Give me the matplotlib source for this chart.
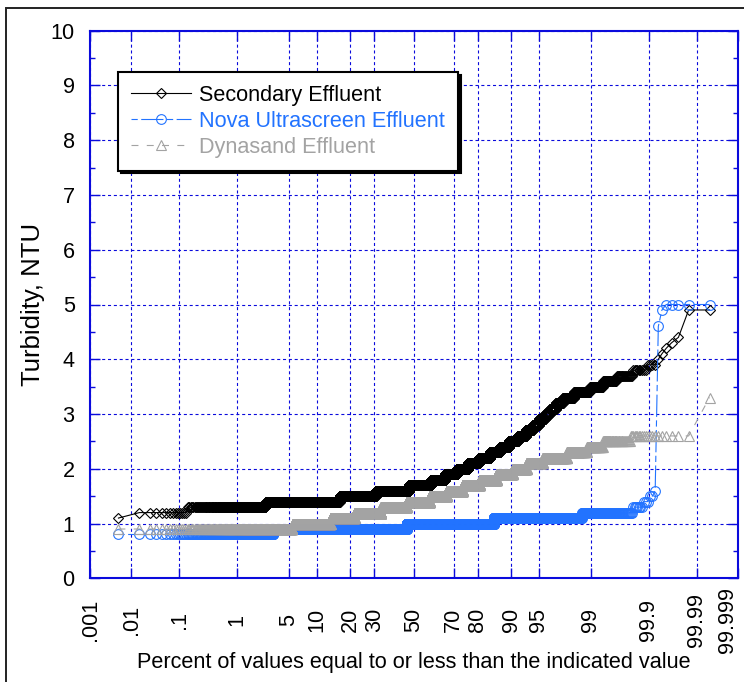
from statistics import NormalDist

import numpy as np
import matplotlib
matplotlib.use("Agg")
import matplotlib.pyplot as plt
from matplotlib.patches import Rectangle
from matplotlib.ticker import MultipleLocator, NullLocator

# Turbidity readings (0.1 NTU resolution): level and number of samples at that level
secondary_ntu = [1.1, 1.2, 1.3, 1.4, 1.5, 1.6, 1.7, 1.8, 1.9, 2.0, 2.1, 2.2, 2.3, 2.4,
                 2.5, 2.6, 2.7, 2.8, 2.9, 3.0, 3.1, 3.2, 3.3, 3.4, 3.5, 3.6, 3.7, 3.8,
                 3.9, 4.0, 4.1, 4.2, 4.3, 4.4, 4.9]
secondary_n = [1, 13, 239, 1383, 1432, 1653, 1150, 701, 561, 472, 427, 377, 298, 234,
               201, 154, 116, 87, 77, 56, 59, 59, 74, 73, 39, 26, 18, 9,
               4, 1, 1, 1, 1, 1, 2]

nova_ntu = [0.8, 0.9, 1.0, 1.1, 1.2, 1.3, 1.4, 1.5, 1.6, 4.6, 4.9, 5.0]
nova_n = [322, 4295, 3916, 1332, 115, 7, 3, 2, 1, 1, 1, 5]

dynasand_ntu = [0.9, 1.0, 1.1, 1.2, 1.3, 1.4, 1.5, 1.6, 1.7, 1.8, 1.9, 2.0, 2.1, 2.2,
                2.3, 2.4, 2.5, 2.6, 3.3]
dynasand_n = [549, 812, 811, 1165, 1280, 1203, 848, 728, 672, 554, 412, 279, 238, 229,
              106, 50, 42, 21, 1]

pct_ticks = [0.001, 0.01, 0.1, 1, 5, 10, 20, 30, 50, 70, 80, 90, 95, 99, 99.9, 99.99, 99.999]
pct_labels = [".001", ".01", ".1", "1", "5", "10", "20", "30", "50", "70", "80", "90",
              "95", "99", "99.9", "99.99", "99.999"]

series_names = ["Secondary Effluent", "Nova Ultrascreen Effluent", "Dynasand Effluent"]

BLACK = "#000000"
BLUE = "#2273FF"
GRAY = "#A3A3A3"
AXIS_BLUE = "#0A0ADC"

plt.rcParams["font.family"] = ["Liberation Sans", "DejaVu Sans"]
plt.rcParams["lines.scale_dashes"] = False
FS = 15.6

# normal-probability axis: percent <-> standard normal quantile
_nd = NormalDist()
_ppf = np.vectorize(_nd.inv_cdf, otypes=[float])
_cdf = np.vectorize(_nd.cdf, otypes=[float])


def pct_to_z(p):
    q = np.clip(np.asarray(p, dtype=float) / 100.0, 1e-15, 1 - 1e-15)
    return _ppf(q)


def z_to_pct(z):
    return 100.0 * _cdf(np.asarray(z, dtype=float))


def probability_points(levels, counts):
    """Sorted sample with Hazen plotting positions, in percent."""
    values = np.repeat(np.asarray(levels, dtype=float), counts)
    n = values.size
    pct = 100.0 * (np.arange(1, n + 1) - 0.5) / n
    return pct, values


W, H = 744, 682
fig = plt.figure(figsize=(W / 100, H / 100), dpi=100)
left, right, top, bottom = 90, 738, 30.7, 578.3
ax = fig.add_axes([left / W, (H - bottom) / H, (right - left) / W, (bottom - top) / H])
ax.set_xscale("function", functions=(pct_to_z, z_to_pct))

x1, y1 = probability_points(secondary_ntu, secondary_n)
x2, y2 = probability_points(nova_ntu, nova_n)
x3, y3 = probability_points(dynasand_ntu, dynasand_n)

ax.plot(x1, y1, color=BLACK, lw=0.8, marker="D", ms=5, mfc="none", mec=BLACK, mew=0.8,
        label=series_names[0])
ax.plot(x2, y2, color=BLUE, lw=0.8, ls=(0, (4.5, 2.5, 16, 2.5)), marker="o", ms=7,
        mfc="none", mec=BLUE, mew=0.8, label=series_names[1])
ax.plot(x3, y3, color=GRAY, lw=0.8, ls=(0, (5, 6)), marker="^", ms=7, mfc="none",
        mec=GRAY, mew=0.8, label=series_names[2])

ax.set_xlim(0.001, 99.999)
ax.set_ylim(0, 10)

ax.set_xticks(pct_ticks, pct_labels, rotation=90)
ax.xaxis.set_minor_locator(NullLocator())
xlabels = ax.get_xticklabels()
for lbl in xlabels:
    lbl.set_verticalalignment("center")
# the last label sits flush against the right edge
xlabels[-1].set_horizontalalignment("right")
ax.yaxis.set_major_locator(MultipleLocator(1))
ax.yaxis.set_minor_locator(MultipleLocator(0.5))

ax.tick_params(axis="both", which="both", direction="in", top=True, right=True,
               color=AXIS_BLUE, labelsize=FS, width=1.0)
ax.tick_params(axis="both", which="major", length=7.2)
ax.tick_params(axis="both", which="minor", length=3.6)
ax.tick_params(axis="x", which="major", pad=30)
ax.tick_params(axis="y", which="major", pad=11)

for sp in ax.spines.values():
    sp.set_color(AXIS_BLUE)
    sp.set_linewidth(1.5)

ax.set_axisbelow(True)
ax.grid(True, which="major", color=AXIS_BLUE, lw=0.8, ls=(0, (2.2, 2.0)))

ax.set_xlabel("Percent of values equal to or less than the indicated value", fontsize=FS)
ax.xaxis.set_label_coords(0.5, -0.134)
ax.set_ylabel("Turbidity, NTU", fontsize=18.5)
ax.yaxis.set_label_coords(-0.07, 0.5)

leg = ax.legend(loc="upper left", bbox_to_anchor=(118 / W, 1 - 72 / H),
                bbox_transform=fig.transFigure, borderaxespad=0, fontsize=FS,
                fancybox=False, framealpha=1, edgecolor="black",
                shadow={"facecolor": "black", "edgecolor": "black", "alpha": 1},
                handlelength=2.77, handletextpad=0.37, borderpad=0.6,
                labelspacing=0.22, labelcolor="linecolor")
leg.get_frame().set_linewidth(1.5)

# outer frame around the figure
fig.add_artist(Rectangle((6 / W, -0.2), 1.2, 1.2 - 8 / H, transform=fig.transFigure,
                         fill=False, edgecolor="#222222", lw=1.4, clip_on=False))

fig.savefig("out.png", dpi=100)
